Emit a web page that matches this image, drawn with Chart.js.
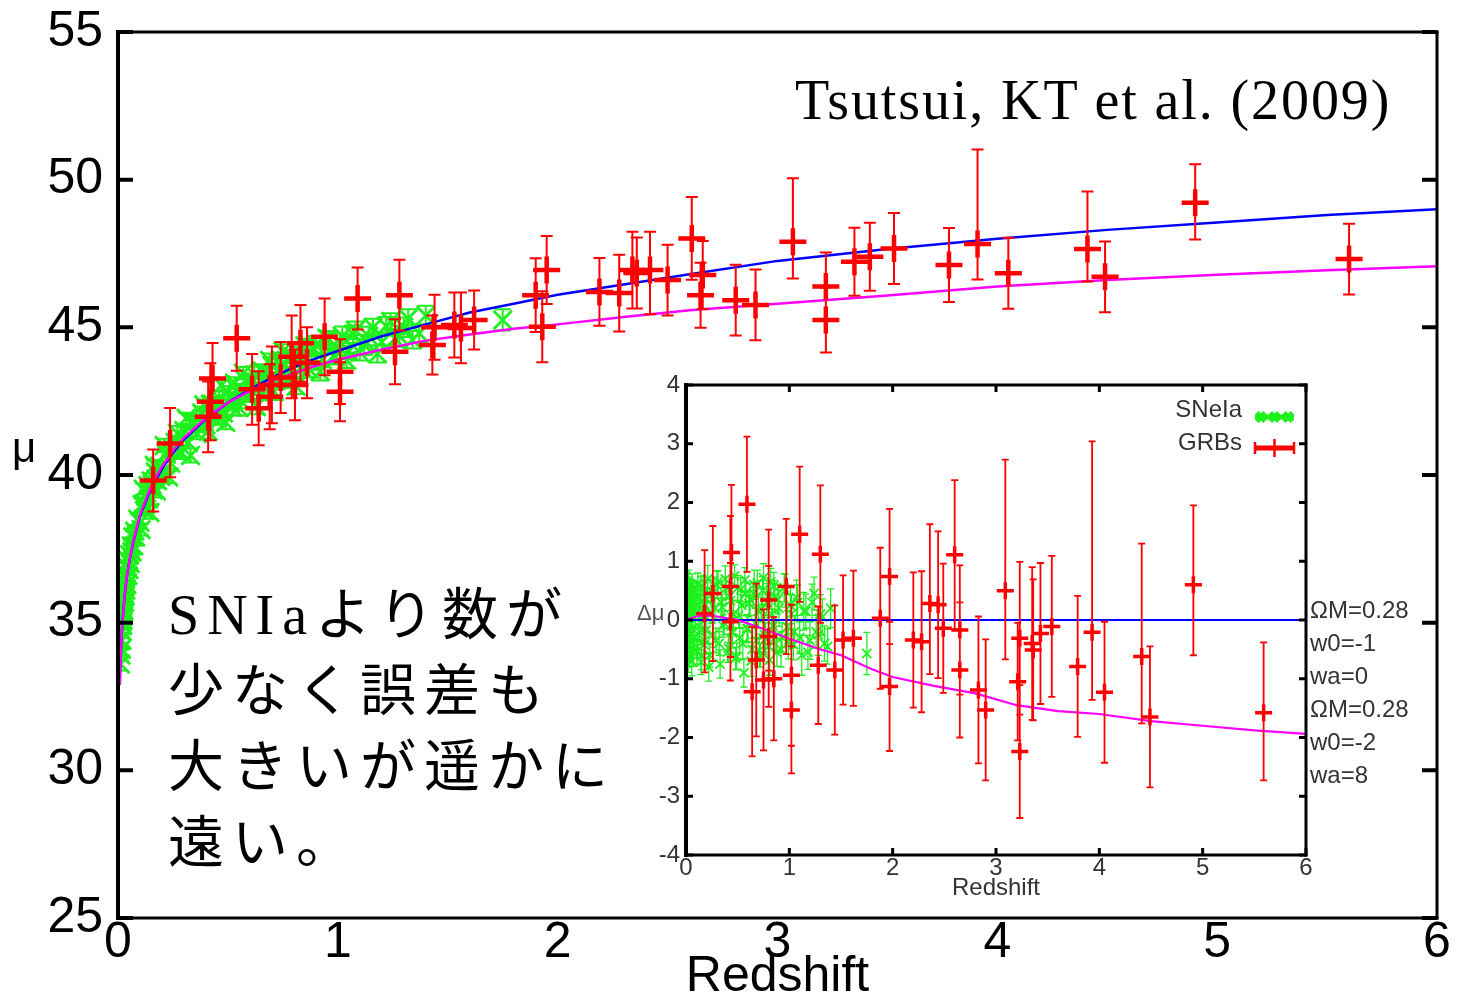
<!DOCTYPE html>
<html lang="ja">
<head>
<meta charset="utf-8">
<title>Hubble diagram with GRBs</title>
<script src="https://cdn.jsdelivr.net/npm/chart.js@4.4.1/dist/chart.umd.min.js"></script>
<style>
  html, body { margin: 0; padding: 0; background: #fff; }
  #stage { position: relative; width: 1457px; height: 1000px; overflow: hidden; background: #fff; }
  canvas { position: absolute; }
  #mainChart { left: 0; top: 0; }
  #insetChart { left: 630px; top: 370px; }
  .label { position: absolute; white-space: nowrap; line-height: 1; color: #000; }
  #muLabel { left: 12px; top: 427px; font-size: 42px; font-family: "Liberation Sans", Arial, sans-serif; }
  #dmuLabel { left: 637px; top: 602px; font-size: 22px; font-family: "Liberation Sans", Arial, sans-serif; color: #555; }
  #cite { left: 795px; top: 72px; font-size: 56px; font-family: "Liberation Serif", "Times New Roman", serif; letter-spacing: 1.9px; }
  #note { left: 168px; top: 577px; font-size: 56px; line-height: 76px; font-family: "Liberation Serif", "Noto Sans CJK JP", serif; letter-spacing: 8px; }
  #models { left: 1310px; top: 593px; font-size: 24px; line-height: 33px; font-family: "Liberation Sans", Arial, sans-serif; color: #333; }
</style>
</head>
<body>
<div id="stage">
  <canvas id="mainChart" width="1457" height="1000"></canvas>
  <canvas id="insetChart" width="790" height="540"></canvas>
  <div class="label" id="muLabel">μ</div>
  <div class="label" id="cite">Tsutsui, KT et al. (2009)</div>
  <div class="label" id="note">SNIaより数が<br>少なく誤差も<br>大きいが遥かに<br>遠い。</div>
  <div class="label" id="dmuLabel">Δμ</div>
  <div class="label" id="models">ΩM=0.28<br>w0=-1<br>wa=0<br>ΩM=0.28<br>w0=-2<br>wa=8</div>
</div>
<script>
// ---------- axis ticks ----------
const zTicks = [0, 1, 2, 3, 4, 5, 6];
const muTicks = [25, 30, 35, 40, 45, 50, 55];
const dmuTicks = [-4, -3, -2, -1, 0, 1, 2, 3, 4];

// ---------- type Ia supernovae ----------
const snZ = [
  0.011, 0.013, 0.014, 0.015, 0.016, 0.017, 0.018, 0.019, 0.020, 0.021,
  0.022, 0.023, 0.024, 0.025, 0.026, 0.027, 0.028, 0.030, 0.031, 0.033,
  0.035, 0.036, 0.038, 0.040, 0.042, 0.045, 0.048, 0.050, 0.053, 0.056,
  0.060, 0.064, 0.068, 0.072, 0.076, 0.080, 0.090, 0.10, 0.11, 0.12,
  0.13, 0.14, 0.15, 0.16, 0.17, 0.18, 0.19, 0.20, 0.22, 0.24,
  0.26, 0.28, 0.30, 0.32, 0.34, 0.36, 0.38, 0.40, 0.42, 0.44,
  0.46, 0.48, 0.50, 0.52, 0.54, 0.56, 0.58, 0.60, 0.62, 0.64,
  0.66, 0.68, 0.70, 0.72, 0.74, 0.76, 0.78, 0.80, 0.82, 0.84,
  0.86, 0.88, 0.90, 0.93, 0.96, 0.99, 1.02, 1.05, 1.08, 1.12,
  1.16, 1.20, 1.24, 1.28, 1.32, 1.37, 1.40, 1.75,
  0.105, 0.115, 0.125, 0.135, 0.145, 0.155, 0.165, 0.175, 0.185, 0.195,
  0.21, 0.23, 0.25, 0.27, 0.29, 0.31, 0.33, 0.35, 0.37, 0.39,
  0.41, 0.43, 0.45, 0.47, 0.49, 0.51, 0.53, 0.55, 0.57, 0.59,
  0.61, 0.63, 0.65, 0.67, 0.69, 0.71, 0.73, 0.75, 0.77, 0.79,
  0.81, 0.83, 0.85, 0.87, 0.89, 0.92, 0.95, 0.98, 1.01, 1.04,
  1.07, 1.10, 1.14, 1.18, 1.22, 1.26, 1.30, 1.34
];
const snMu = [
  33.6, 33.9, 34.4, 34.1, 34.7, 34.4, 35.0, 34.7, 35.2, 34.9,
  35.5, 35.1, 35.6, 35.3, 35.8, 35.4, 36.0, 35.7, 36.2, 35.9,
  36.5, 36.1, 36.6, 36.3, 36.9, 36.6, 37.1, 36.8, 37.3, 37.0,
  37.6, 37.4, 37.9, 37.6, 38.1, 37.9, 38.5, 38.4, 39.0, 38.8,
  39.4, 39.2, 39.8, 39.5, 40.1, 39.8, 40.3, 40.0, 40.7, 40.4,
  41.1, 40.8, 41.5, 41.1, 41.8, 41.4, 42.1, 41.7, 42.4, 41.9,
  42.6, 42.1, 42.8, 42.3, 42.9, 42.5, 43.2, 42.7, 43.4, 42.9,
  43.5, 43.0, 43.7, 43.2, 43.9, 43.3, 44.0, 43.4, 44.1, 43.6,
  44.3, 43.8, 44.4, 43.9, 44.6, 44.0, 44.7, 44.2, 44.9, 44.4,
  45.0, 44.5, 45.2, 44.7, 45.3, 44.8, 45.4, 45.25,
  38.15, 39.52, 39.00, 39.65, 38.73, 39.67, 40.33, 39.46, 40.25, 39.95,
  41.00, 39.93, 40.87, 41.41, 40.75, 41.92, 40.66, 41.77, 41.64, 42.38,
  41.48, 42.40, 41.96, 43.04, 41.78, 42.58, 43.11, 42.28, 43.45, 42.71,
  43.22, 42.32, 43.55, 43.13, 43.88, 42.82, 43.58, 44.19, 43.22, 44.01,
  43.00, 43.84, 44.38, 43.58, 44.27, 43.50, 44.63, 44.03, 44.48, 43.88,
  44.76, 44.15, 44.70, 44.10, 45.04, 44.62, 45.00, 44.58
];
const snDmu = [
  0.35, -0.40, 0.55, -0.15, 0.20, -0.55, 0.45, -0.30, 0.10, -0.65,
  0.50, -0.20, 0.30, -0.45, 0.60, -0.10, 0.25, -0.35, 0.40, -0.60,
  0.15, -0.25, 0.55, -0.50, 0.35, -0.05, 0.45, -0.40, 0.20, -0.70,
  0.60, -0.15, 0.30, -0.55, 0.50, -0.30, 0.10, 0.40, -0.45, 0.25,
  -0.20, 0.55, -0.60, 0.15, 0.45, -0.35, 0.05, 0.35, -0.80, 0.50,
  -0.25, 0.20, 0.60, -0.40, 0.30, -0.10, 0.70, -0.55, 0.40, -0.20,
  0.10, -0.65, 0.55, -0.30, 0.25, -0.90, 0.45, -0.15, 0.35, -0.50,
  0.60, -0.35, 0.15, -0.60, 0.50, -0.25, 0.30, -0.45, 0.65, -0.10,
  0.40, -0.55, 0.20, -0.30, 0.50, -0.40, 0.10, -0.20, 0.30, -0.60,
  0.15, -0.35, 0.45, -0.25, 0.05, -0.45, 0.20, -0.57,
  -0.55, 0.62, -0.10, 0.38, -0.72, 0.05, 0.58, -0.42, 0.25, -0.18,
  0.70, -0.60, 0.12, 0.48, -0.35, 0.65, -0.75, 0.22, -0.05, 0.55,
  -0.48, 0.33, -0.22, 0.75, -0.62, 0.08, 0.52, -0.40, 0.68, -0.15,
  0.28, -0.70, 0.45, -0.05, 0.62, -0.52, 0.18, 0.72, -0.32, 0.40,
  -0.68, 0.10, 0.58, -0.28, 0.35, -0.50, 0.55, -0.12, 0.25, -0.42,
  0.38, -0.30, 0.15, -0.55, 0.30, -0.20, 0.10, -0.40
];
const snErr = [
  0.22, 0.18, 0.25, 0.20, 0.17, 0.23, 0.19, 0.21, 0.18, 0.24,
  0.20, 0.17, 0.22, 0.19, 0.25, 0.18, 0.21, 0.23, 0.17, 0.20,
  0.19, 0.24, 0.18, 0.22, 0.20, 0.17, 0.23, 0.19, 0.21, 0.25,
  0.18, 0.22, 0.20, 0.24, 0.17, 0.21, 0.19, 0.23, 0.20, 0.18,
  0.22, 0.19, 0.25, 0.18, 0.21, 0.23, 0.17, 0.20, 0.24, 0.19,
  0.21, 0.18, 0.23, 0.20, 0.25, 0.19, 0.22, 0.17, 0.24, 0.20,
  0.23, 0.19, 0.21, 0.26, 0.18, 0.24, 0.20, 0.22, 0.27, 0.19,
  0.25, 0.21, 0.28, 0.20, 0.24, 0.30, 0.22, 0.26, 0.23, 0.29,
  0.27, 0.24, 0.31, 0.25, 0.28, 0.26, 0.33, 0.27, 0.30, 0.34,
  0.29, 0.32, 0.28, 0.35, 0.31, 0.30, 0.33, 0.36,
  0.20, 0.18, 0.23, 0.19, 0.21, 0.24, 0.18, 0.22, 0.20, 0.19,
  0.23, 0.20, 0.18, 0.25, 0.21, 0.19, 0.24, 0.22, 0.20, 0.18,
  0.24, 0.21, 0.26, 0.19, 0.23, 0.22, 0.20, 0.27, 0.21, 0.24,
  0.22, 0.26, 0.20, 0.25, 0.23, 0.28, 0.21, 0.24, 0.27, 0.22,
  0.26, 0.29, 0.23, 0.27, 0.25, 0.30, 0.24, 0.28, 0.31, 0.26,
  0.30, 0.27, 0.32, 0.29, 0.31, 0.28, 0.33, 0.30
];

// ---------- gamma-ray bursts (Hubble diagram) ----------
const grbZ = [
  0.16, 0.237, 0.41, 0.42, 0.43, 0.54, 0.61, 0.64, 0.69, 0.70,
  0.74, 0.79, 0.805, 0.83, 0.86, 0.94, 1.01, 1.01, 1.09, 1.26,
  1.28, 1.43, 1.44, 1.53, 1.56, 1.62, 1.90, 1.93, 1.95, 2.19,
  2.28, 2.34, 2.36, 2.42, 2.50, 2.61, 2.65, 2.66, 2.81, 2.90,
  3.07, 3.22, 3.22, 3.35, 3.42, 3.53, 3.78, 3.91, 4.05, 4.41,
  4.49, 4.90, 5.60
];
const grbMu = [
  39.81, 41.07, 41.97, 42.48, 43.27, 44.63, 42.90, 42.26, 42.65, 43.05,
  43.30, 44.00, 43.05, 44.46, 43.80, 44.68, 43.50, 42.82, 45.98, 44.17,
  46.09, 44.40, 45.00, 45.08, 44.98, 45.25, 46.09, 45.02, 46.94, 46.20,
  46.16, 46.94, 46.84, 46.94, 46.60, 48.01, 46.09, 46.77, 45.92, 45.76,
  47.90, 46.38, 45.25, 47.22, 47.39, 47.67, 47.11, 47.82, 46.83, 47.65,
  46.71, 49.22, 47.31
];
const grbMuLo = [
  1.05, 1.15, 1.20, 1.30, 1.20, 1.10, 1.20, 1.25, 1.10, 1.30,
  1.20, 1.40, 1.20, 1.30, 1.20, 1.30, 1.10, 1.00, 1.05, 1.10,
  1.20, 1.00, 1.10, 1.10, 1.20, 1.00, 1.25, 1.20, 1.15, 1.15,
  1.30, 1.30, 1.20, 1.50, 1.20, 1.40, 1.10, 1.15, 1.20, 1.20,
  1.25, 1.15, 1.10, 1.15, 1.15, 1.20, 1.25, 1.20, 1.20, 1.10,
  1.20, 1.25, 1.20
];
const grbMuHi = [
  1.05, 1.20, 1.20, 1.30, 1.20, 1.10, 1.20, 1.25, 1.10, 1.30,
  1.20, 1.40, 1.20, 1.30, 1.20, 1.30, 1.10, 1.00, 1.05, 1.10,
  1.20, 1.00, 1.10, 1.10, 1.20, 1.00, 1.25, 1.20, 1.15, 1.15,
  1.30, 1.30, 1.20, 1.30, 1.20, 1.40, 1.10, 1.15, 1.20, 1.20,
  2.15, 1.15, 1.10, 1.15, 1.15, 1.20, 1.25, 3.20, 1.20, 1.95,
  1.20, 1.30, 1.20
];

// ---------- model distance moduli ----------
const modelZ = [
  0.008, 0.01, 0.015, 0.02, 0.03, 0.04, 0.05, 0.07, 0.1, 0.15,
  0.2, 0.25, 0.3, 0.4, 0.5, 0.6, 0.7, 0.8, 0.9, 1.0,
  1.2, 1.4, 1.6, 1.8, 2.0, 2.3, 2.6, 3.0, 3.5, 4.0,
  4.5, 5.0, 5.5, 6.0
];
// w0 = -1, wa = 0
const lcdmMu = [
  32.9, 33.4, 34.35, 35.0, 35.9, 36.55, 37.0, 37.75, 38.6, 39.55,
  40.2, 40.75, 41.2, 41.9, 42.45, 42.9, 43.3, 43.65, 43.95, 44.2,
  44.7, 45.1, 45.5, 45.8, 46.1, 46.45, 46.8, 47.25, 47.65, 48.0,
  48.3, 48.55, 48.8, 49.0
];
// w0 = -2, wa = 8
const evolvMu = [
  32.9, 33.4, 34.35, 35.0, 35.9, 36.55, 37.0, 37.78, 38.65, 39.62,
  40.28, 40.82, 41.26, 41.93, 42.45, 42.85, 43.18, 43.45, 43.7, 43.9,
  44.25, 44.55, 44.76, 44.95, 45.1, 45.35, 45.58, 45.8, 46.08, 46.38,
  46.6, 46.78, 46.93, 47.07
];

// ---------- residuals (inset) ----------
const grbResZ = [
  0.18, 0.26, 0.43, 0.44, 0.43, 0.59, 0.64, 0.68, 0.75, 0.80,
  0.80, 0.85, 0.97, 1.02, 1.02, 1.10, 1.28, 1.30, 1.44, 1.52,
  1.62, 1.88, 1.97, 1.97, 2.20, 2.28, 2.36, 2.44, 2.49, 2.60,
  2.65, 2.65, 2.83, 2.90, 3.09, 3.21, 3.23, 3.23, 3.35, 3.36,
  3.43, 3.54, 3.79, 3.93, 4.05, 4.41, 4.49, 4.91, 5.59
];
const grbRes = [
  0.11, 0.45, 0.57, 1.15, -0.03, 1.97, -1.22, -0.68, -1.02, 0.34,
  -0.28, -1.00, 0.57, -0.94, -1.53, 1.46, -0.77, 1.12, -0.85, -0.34,
  -0.31, 0.03, 0.74, -1.13, -0.34, -0.37, 0.28, 0.26, -0.14, 1.11,
  -0.17, -0.85, -1.19, -1.53, 0.50, -1.05, -0.31, -2.24, -0.40, -0.51,
  -0.23, -0.11, -0.79, -0.21, -1.23, -0.62, -1.65, 0.60, -1.58
];
const grbResLo = [
  1.00, 1.15, 1.20, 1.15, 1.00, 1.15, 1.10, 1.30, 1.20, 1.20,
  1.20, 1.05, 1.15, 1.20, 1.08, 1.15, 1.00, 1.17, 1.10, 1.10,
  1.15, 1.20, 1.15, 1.10, 1.15, 1.20, 1.20, 1.25, 1.10, 1.27,
  1.10, 1.15, 1.25, 1.20, 1.17, 1.00, 1.30, 1.13, 1.30, 1.20,
  1.20, 1.20, 1.20, 1.15, 1.20, 1.14, 1.20, 1.20, 1.15
];
const grbResHi = [
  1.08, 1.15, 1.20, 1.15, 1.00, 1.15, 1.10, 1.30, 1.20, 1.20,
  1.20, 1.05, 1.15, 1.20, 1.08, 1.15, 1.00, 1.17, 1.10, 1.10,
  1.15, 1.20, 1.15, 1.10, 1.15, 1.20, 1.35, 1.25, 1.10, 1.27,
  1.10, 1.15, 1.25, 1.20, 2.23, 1.00, 1.30, 1.13, 1.30, 1.20,
  1.20, 1.20, 1.20, 3.25, 1.20, 1.92, 1.20, 1.35, 1.20
];
const flatZ = [0, 6];
const flatRes = [0, 0];
const evolvResZ = [0, 0.1, 0.2, 0.3, 0.5, 0.7, 1.0, 1.3, 1.5, 1.8, 2.0, 2.4, 2.8, 3.2, 3.6, 4.0, 4.5, 5.0, 5.5, 6.0];
const evolvRes = [0, 0.06, 0.08, 0.06, 0.0, -0.12, -0.32, -0.5, -0.6, -0.84, -0.97, -1.12, -1.25, -1.45, -1.55, -1.6, -1.72, -1.8, -1.88, -1.94];

// ---------- colours ----------
const RED = '#ff0000';
const GREEN = '#1ef01e';
const BLUE = '#0000ff';
const MAGENTA = '#ff00ff';

const pts = (xs, ys) => xs.map((x, i) => ({ x, y: ys[i] }));

// vertical error bars with end caps, drawn just under each marker layer
const errorBars = {
  id: 'errorBars',
  beforeDatasetDraw(chart, args) {
    const ds = chart.data.datasets[args.index];
    if (!ds.errLo) return;
    const { ctx, chartArea: a, scales: { x, y } } = chart;
    ctx.save();
    ctx.beginPath();
    ctx.rect(a.left, a.top, a.right - a.left, a.bottom - a.top);
    ctx.clip();
    ctx.strokeStyle = ds.errColor;
    ctx.lineWidth = ds.errWidth;
    ctx.beginPath();
    ds.data.forEach((p, i) => {
      const px = x.getPixelForValue(p.x);
      const top = y.getPixelForValue(p.y + ds.errHi[i]);
      const bot = y.getPixelForValue(p.y - ds.errLo[i]);
      ctx.moveTo(px, top); ctx.lineTo(px, bot);
      ctx.moveTo(px - ds.capHalf, top); ctx.lineTo(px + ds.capHalf, top);
      ctx.moveTo(px - ds.capHalf, bot); ctx.lineTo(px + ds.capHalf, bot);
    });
    ctx.stroke();
    ctx.restore();
  }
};

// closed plot box with inward tick marks
const frame = {
  id: 'frame',
  afterDraw(chart, args, o) {
    const { ctx, chartArea: a, scales: { x, y } } = chart;
    ctx.save();
    ctx.strokeStyle = '#000';
    ctx.lineCap = 'butt';
    ctx.lineWidth = o.tickWidth;
    ctx.beginPath();
    y.ticks.forEach(t => {
      const py = y.getPixelForValue(t.value);
      if (o.sides.includes('left')) { ctx.moveTo(a.left, py); ctx.lineTo(a.left + o.tickLen, py); }
      if (o.sides.includes('right')) { ctx.moveTo(a.right, py); ctx.lineTo(a.right - o.tickLen, py); }
    });
    x.ticks.forEach(t => {
      const px = x.getPixelForValue(t.value);
      if (o.sides.includes('bottom')) { ctx.moveTo(px, a.bottom); ctx.lineTo(px, a.bottom - o.tickLen); }
      if (o.sides.includes('top')) { ctx.moveTo(px, a.top); ctx.lineTo(px, a.top + o.tickLen); }
    });
    ctx.stroke();
    const edge = (x1, y1, x2, y2, w) => {
      ctx.lineWidth = w; ctx.beginPath(); ctx.moveTo(x1, y1); ctx.lineTo(x2, y2); ctx.stroke();
    };
    ctx.lineCap = 'square';
    edge(a.left, a.top, a.right, a.top, o.topWidth);
    edge(a.right, a.top, a.right, a.bottom, o.rightWidth);
    edge(a.left, a.bottom, a.right, a.bottom, o.bottomWidth);
    edge(a.left, a.top, a.left, a.bottom, o.leftWidth);
    ctx.restore();
  }
};

// key in the upper right corner of the residual panel
const cornerKey = {
  id: 'cornerKey',
  afterDraw(chart, args, o) {
    const { ctx } = chart;
    const sets = chart.data.datasets.filter(d => d.keyRow !== undefined);
    ctx.save();
    ctx.font = o.font;
    ctx.textAlign = 'right';
    ctx.textBaseline = 'middle';
    sets.forEach(d => {
      const row = o.rows[d.keyRow];
      ctx.fillStyle = o.color;
      ctx.fillText(d.label, o.textRight, row.text);
      const y = row.sym;
      ctx.strokeStyle = d.pointBorderColor;
      ctx.lineWidth = d.keyLine;
      ctx.beginPath(); ctx.moveTo(o.symLeft, y); ctx.lineTo(o.symRight, y); ctx.stroke();
      if (d.keyCaps) {
        ctx.lineWidth = 2.5;
        ctx.beginPath();
        ctx.moveTo(o.symLeft, y - d.keyCaps); ctx.lineTo(o.symLeft, y + d.keyCaps);
        ctx.moveTo(o.symRight, y - d.keyCaps); ctx.lineTo(o.symRight, y + d.keyCaps);
        ctx.stroke();
      }
      const style = { pointStyle: d.pointStyle, radius: d.keyRadius, borderWidth: d.pointBorderWidth, rotation: 0 };
      d.keyMarks.forEach(f => {
        ctx.strokeStyle = d.pointBorderColor;
        ctx.fillStyle = d.pointBorderColor;
        Chart.helpers.drawPoint(ctx, style, o.symLeft + f * (o.symRight - o.symLeft), y);
      });
    });
    ctx.restore();
  }
};

const tickList = list => scale => { scale.ticks = list.map(v => ({ value: v })); };
// fixed axis band sizes; the tick labels may overhang into the page margins
const fixWidth = w => s => { s.width = w; s.paddingTop = 0; s.paddingBottom = 0; };
const fixHeight = h => s => { s.height = h; s.paddingLeft = 0; s.paddingRight = 0; };

// ---------- main panel: distance modulus vs redshift ----------
new Chart(document.getElementById('mainChart'), {
  type: 'scatter',
  data: {
    datasets: [
      {
        label: 'GRBs', order: 0,
        data: pts(grbZ, grbMu),
        errLo: grbMuLo, errHi: grbMuHi, errColor: RED, errWidth: 2, capHalf: 6,
        pointStyle: 'cross', pointRadius: 13.5, pointBorderWidth: 4.5,
        pointBorderColor: RED, pointBackgroundColor: RED
      },
      {
        label: 'w0=-2, wa=8', order: 1, showLine: true,
        data: pts(modelZ, evolvMu),
        borderColor: MAGENTA, borderWidth: 2.5, pointRadius: 0, tension: 0
      },
      {
        label: 'w0=-1, wa=0', order: 2, showLine: true,
        data: pts(modelZ, lcdmMu),
        borderColor: BLUE, borderWidth: 2.5, pointRadius: 0, tension: 0
      },
      {
        label: 'SNeIa', order: 3,
        data: pts(snZ, snMu),
        errLo: snErr, errHi: snErr, errColor: GREEN, errWidth: 2, capHalf: 8,
        pointStyle: 'crossRot', pointRadius: 13, pointBorderWidth: 2.8,
        pointBorderColor: GREEN, pointBackgroundColor: GREEN
      }
    ]
  },
  options: {
    responsive: false,
    animation: false,
    events: [],
    layout: { padding: { left: 0, right: 20, top: 32, bottom: 0 } },
    plugins: {
      legend: { display: false },
      tooltip: { enabled: false },
      frame: { sides: ['left', 'right'], tickLen: 15, tickWidth: 4, leftWidth: 4, rightWidth: 3, topWidth: 3, bottomWidth: 3 }
    },
    scales: {
      x: {
        type: 'linear', min: 0, max: 6,
        afterBuildTicks: tickList(zTicks),
        afterFit: fixHeight(82),
        grid: { display: false, drawTicks: false },
        border: { display: false },
        ticks: { autoSkip: false, maxRotation: 0, padding: 0, color: '#000', font: { family: 'Liberation Sans', size: 50, lineHeight: 1 } },
        title: { display: true, text: 'Redshift', color: '#000', padding: { top: 0, bottom: -2 }, font: { family: 'Liberation Sans', size: 50, lineHeight: 1 } }
      },
      y: {
        type: 'linear', min: 25, max: 55,
        afterBuildTicks: tickList(muTicks),
        afterFit: fixWidth(118),
        grid: { display: false, drawTicks: false },
        border: { display: false },
        ticks: { autoSkip: false, padding: 15, color: '#000', font: { family: 'Liberation Sans', size: 50, lineHeight: 1 } }
      }
    }
  },
  plugins: [errorBars, frame]
});

// ---------- inset: residuals from the w0=-1 model ----------
new Chart(document.getElementById('insetChart'), {
  type: 'scatter',
  data: {
    datasets: [
      {
        label: 'GRBs', order: 0, keyRow: 1,
        data: pts(grbResZ, grbRes),
        errLo: grbResLo, errHi: grbResHi, errColor: RED, errWidth: 1.8, capHalf: 3.5,
        pointStyle: 'cross', pointRadius: 8.5, pointBorderWidth: 3.5,
        pointBorderColor: RED, pointBackgroundColor: RED,
        keyLine: 5, keyCaps: 6, keyRadius: 9, keyMarks: [0.5]
      },
      {
        label: 'w0=-2, wa=8', order: 1, showLine: true,
        data: pts(evolvResZ, evolvRes),
        borderColor: MAGENTA, borderWidth: 2.2, pointRadius: 0, tension: 0
      },
      {
        label: 'w0=-1, wa=0', order: 2, showLine: true,
        data: pts(flatZ, flatRes),
        borderColor: BLUE, borderWidth: 2.2, pointRadius: 0, tension: 0
      },
      {
        label: 'SNeIa', order: 3, keyRow: 0,
        data: pts(snZ, snDmu),
        errLo: snErr, errHi: snErr, errColor: GREEN, errWidth: 1.3, capHalf: 3.5,
        pointStyle: 'crossRot', pointRadius: 6.5, pointBorderWidth: 1.8,
        pointBorderColor: GREEN, pointBackgroundColor: GREEN,
        keyLine: 5, keyRadius: 6, keyMarks: [0.15, 0.5, 0.85]
      }
    ]
  },
  options: {
    responsive: false,
    animation: false,
    events: [],
    layout: { padding: { left: 0, right: 114, top: 15, bottom: 0 } },
    plugins: {
      legend: { display: false },
      tooltip: { enabled: false },
      frame: { sides: ['left', 'right', 'top', 'bottom'], tickLen: 7, tickWidth: 3, leftWidth: 4, rightWidth: 3, topWidth: 3, bottomWidth: 3 },
      cornerKey: {
        font: '24px "Liberation Sans", Arial, sans-serif', color: '#333',
        textRight: 612, symLeft: 625, symRight: 664,
        rows: [{ text: 40, sym: 47 }, { text: 73, sym: 78 }]
      }
    },
    scales: {
      x: {
        type: 'linear', min: 0, max: 6,
        afterBuildTicks: tickList(zTicks),
        afterFit: fixHeight(55),
        grid: { display: false, drawTicks: false },
        border: { display: false },
        ticks: { autoSkip: false, maxRotation: 0, padding: 1, color: '#333', font: { family: 'Liberation Sans', size: 24, lineHeight: 1 } },
        title: { display: true, text: 'Redshift', color: '#333', padding: { top: 0, bottom: 10 }, font: { family: 'Liberation Sans', size: 24, lineHeight: 1 } }
      },
      y: {
        type: 'linear', min: -4, max: 4,
        afterBuildTicks: tickList(dmuTicks),
        afterFit: fixWidth(56),
        grid: { display: false, drawTicks: false },
        border: { display: false },
        ticks: { autoSkip: false, padding: 6, color: '#333', font: { family: 'Liberation Sans', size: 24, lineHeight: 1 } }
      }
    }
  },
  plugins: [errorBars, frame, cornerKey]
});
</script>
</body>
</html>
